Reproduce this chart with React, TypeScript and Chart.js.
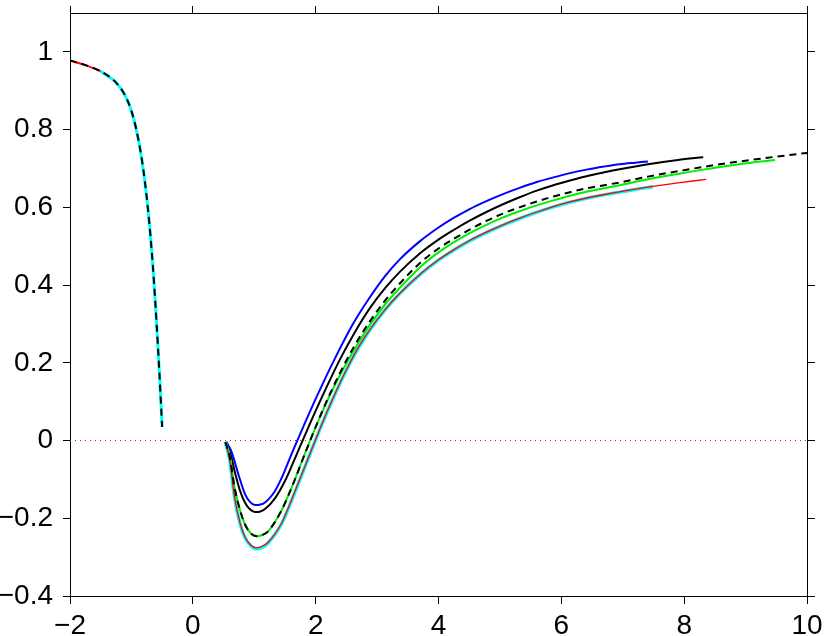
import React, { useEffect, useRef } from "react";
import { Chart, registerables } from "chart.js";
Chart.register(...registerables);

// Tick values
const xTickValues = [-2, 0, 2, 4, 6, 8, 10];
const yTickValues = [-0.4, -0.2, 0, 0.2, 0.4, 0.6, 0.8, 1];

// Left branch (shared by curves)
const leftX = [-2, -1.75, -1.5, -1.25, -1.1, -1.0, -0.92, -0.84, -0.78, -0.73, -0.69, -0.65, -0.61, -0.57, -0.53, -0.5];
const leftY = [0.978, 0.966, 0.95, 0.921, 0.887, 0.848, 0.8, 0.733, 0.665, 0.595, 0.527, 0.447, 0.353, 0.247, 0.131, 0.035];

// Right branch: blue
const blueX = [0.55, 0.57, 0.62, 0.66, 0.74, 0.85, 0.93, 1.01, 1.09, 1.17, 1.34, 1.45, 1.55, 1.66, 1.8, 2.0, 2.3, 2.6, 2.88, 3.13, 3.37, 3.7, 4.0, 4.24, 4.5, 4.78, 5.05, 5.32, 5.6, 5.87, 6.14, 6.41, 6.7, 6.95, 7.2, 7.41];
const blueY = [-0.003, -0.01, -0.025, -0.043, -0.086, -0.138, -0.158, -0.166, -0.165, -0.16, -0.129, -0.095, -0.057, -0.015, 0.036, 0.107, 0.207, 0.298, 0.368, 0.423, 0.466, 0.513, 0.548, 0.572, 0.595, 0.616, 0.634, 0.65, 0.665, 0.677, 0.688, 0.697, 0.705, 0.711, 0.715, 0.718];

// Right branch: black solid
const blackX = [0.54, 0.6, 0.68, 0.77, 0.85, 0.93, 1.01, 1.09, 1.17, 1.34, 1.5, 1.62, 1.75, 1.9, 2.1, 2.4, 2.65, 2.88, 3.13, 3.37, 3.7, 4.0, 4.24, 4.5, 4.78, 5.05, 5.32, 5.6, 5.87, 6.14, 6.41, 6.7, 6.95, 7.41, 7.9, 8.31];
const blackY = [-0.004, -0.025, -0.078, -0.13, -0.16, -0.177, -0.184, -0.183, -0.177, -0.148, -0.104, -0.062, -0.014, 0.041, 0.111, 0.21, 0.282, 0.34, 0.392, 0.434, 0.482, 0.517, 0.541, 0.565, 0.588, 0.608, 0.626, 0.643, 0.657, 0.669, 0.68, 0.69, 0.698, 0.711, 0.722, 0.729];

// Right branch: black dashed
const dashX = [0.53, 0.6, 0.68, 0.77, 0.85, 0.95, 1.04, 1.13, 1.23, 1.44, 1.55, 1.66, 1.78, 1.9, 2.05, 2.25, 2.5, 2.7, 2.88, 3.13, 3.37, 3.7, 4.0, 4.24, 4.5, 4.78, 5.05, 5.32, 5.6, 5.87, 6.14, 6.41, 6.7, 6.95, 7.41, 7.9, 8.31, 8.9, 9.48, 10];
const dashY = [-0.004, -0.04, -0.121, -0.18, -0.216, -0.24, -0.246, -0.243, -0.233, -0.181, -0.143, -0.101, -0.052, -0.004, 0.054, 0.126, 0.206, 0.262, 0.306, 0.36, 0.404, 0.457, 0.494, 0.518, 0.542, 0.565, 0.584, 0.6, 0.615, 0.628, 0.639, 0.649, 0.657, 0.664, 0.679, 0.693, 0.704, 0.718, 0.73, 0.74];

// Right branch: green
const greenX = [0.53, 0.6, 0.68, 0.77, 0.85, 0.95, 1.04, 1.13, 1.23, 1.44, 1.55, 1.66, 1.78, 1.9, 2.05, 2.25, 2.5, 2.7, 2.88, 3.13, 3.37, 3.7, 4.0, 4.24, 4.5, 4.78, 5.05, 5.32, 5.6, 5.87, 6.14, 6.41, 6.7, 6.95, 7.41, 7.9, 8.31, 8.9, 9.48];
const greenY = [-0.004, -0.04, -0.121, -0.18, -0.216, -0.24, -0.246, -0.243, -0.233, -0.181, -0.143, -0.101, -0.052, -0.004, 0.053, 0.123, 0.199, 0.253, 0.297, 0.35, 0.393, 0.446, 0.484, 0.509, 0.533, 0.555, 0.574, 0.59, 0.605, 0.618, 0.63, 0.64, 0.649, 0.657, 0.672, 0.686, 0.697, 0.711, 0.722];

// Right branch: cyan
const cyanX = [0.53, 0.6, 0.68, 0.77, 0.85, 0.95, 1.04, 1.13, 1.23, 1.44, 1.55, 1.66, 1.77, 1.88, 1.97, 2.1, 2.3, 2.5, 2.7, 2.88, 3.13, 3.37, 3.7, 4.0, 4.24, 4.5, 4.78, 5.05, 5.32, 5.6, 5.87, 6.14, 6.41, 6.7, 6.95, 7.2, 7.49];
const cyanY = [-0.004, -0.05, -0.147, -0.215, -0.25, -0.272, -0.279, -0.275, -0.263, -0.216, -0.177, -0.134, -0.09, -0.046, -0.01, 0.041, 0.114, 0.181, 0.24, 0.284, 0.336, 0.378, 0.427, 0.464, 0.489, 0.513, 0.535, 0.554, 0.571, 0.587, 0.601, 0.613, 0.623, 0.632, 0.639, 0.646, 0.653];

// Right branch: red
const redX = [0.53, 0.6, 0.68, 0.77, 0.85, 0.95, 1.04, 1.13, 1.23, 1.44, 1.55, 1.66, 1.77, 1.88, 1.97, 2.1, 2.3, 2.5, 2.7, 2.88, 3.13, 3.37, 3.7, 4.0, 4.24, 4.5, 4.78, 5.05, 5.32, 5.6, 5.87, 6.14, 6.41, 6.7, 6.95, 7.2, 7.49, 7.9, 8.36];
const redY = [-0.004, -0.05, -0.146, -0.213, -0.248, -0.27, -0.276, -0.272, -0.261, -0.214, -0.175, -0.132, -0.088, -0.045, -0.009, 0.042, 0.115, 0.182, 0.241, 0.285, 0.337, 0.379, 0.428, 0.465, 0.49, 0.514, 0.536, 0.555, 0.572, 0.588, 0.602, 0.614, 0.624, 0.633, 0.64, 0.647, 0.654, 0.663, 0.672];

// Zero reference line
const zeroX = [-2, 10];
const zeroY = [0, 0];

const pts = (xs: number[], ys: number[]) => xs.map((x, i) => ({ x, y: ys[i] }));

const fmt = (v: number) => {
  const r = Math.round(v * 10) / 10;
  if (r === 0) return "0";
  const a = Math.abs(r);
  const s = Number.isInteger(a) ? String(a) : a.toFixed(1);
  return (r < 0 ? "\u2212" : "") + s;
};

const FONT = { family: "'Liberation Sans', Arial, Helvetica, sans-serif", size: 28 };

export default function App() {
  const ref = useRef<HTMLCanvasElement>(null);
  useEffect(() => {
    const line = (data: any, color: string, width: number, extra: any = {}) => ({
      data,
      borderColor: color,
      backgroundColor: color,
      borderWidth: width,
      showLine: true,
      pointRadius: 0,
      fill: false,
      cubicInterpolationMode: "monotone",
      ...extra,
    });
    const dashed = { borderDash: [7, 5] };
    const noPadX = (s: any) => { s.paddingLeft = 0; s.paddingRight = 0; };
    const noPadY = (s: any) => { s.paddingTop = 0; s.paddingBottom = 0; };
    const chart = new Chart(ref.current as HTMLCanvasElement, {
      type: "scatter",
      data: {
        datasets: [
          line(pts(leftX, leftY), "#000000", 2, dashed),
          line(pts(dashX, dashY), "#000000", 2, dashed),
          line(pts(redX, redY), "#ff0000", 1.3),
          line(pts(greenX, greenY), "#00ee00", 2),
          line(pts(leftX.slice(2), leftY.slice(2)), "#00ffff", 3),
          line(pts(leftX.slice(0, 3), leftY.slice(0, 3)), "#ff0000", 2),
          line(pts(cyanX, cyanY), "#00ffff", 3.5),
          line(pts(blueX, blueY), "#0000ff", 2),
          line(pts(blackX, blackY), "#000000", 2),
          line(pts(zeroX, zeroY), "#ff0000", 1, { borderDash: [1, 4], cubicInterpolationMode: "default" }),
        ] as any,
      },
      options: {
        responsive: false,
        animation: false,
        events: [],
        layout: { padding: 0 },
        plugins: { legend: { display: false }, tooltip: { enabled: false } },
        scales: {
          x: {
            type: "linear",
            position: "bottom",
            min: -2,
            max: 10,
            afterBuildTicks: (a: any) => { a.ticks = xTickValues.map((v) => ({ value: v })); },
            afterFit: (s: any) => { s.height = 40; noPadX(s); },
            ticks: { color: "#000", font: FONT, padding: 5, maxRotation: 0, autoSkip: false, callback: (v: any) => fmt(Number(v)) },
            grid: { drawOnChartArea: false, drawTicks: true, tickLength: 8, color: "#000", lineWidth: 1 },
            border: { display: true, color: "#000", width: 1 },
          },
          x2: {
            type: "linear",
            axis: "x",
            position: "top",
            min: -2,
            max: 10,
            afterBuildTicks: (a: any) => { a.ticks = xTickValues.map((v) => ({ value: v })); },
            afterFit: (s: any) => { s.height = 13; noPadX(s); },
            ticks: { display: false },
            grid: { drawOnChartArea: false, drawTicks: true, tickLength: 7, color: "#000", lineWidth: 1 },
            border: { display: true, color: "#000", width: 1 },
          },
          y: {
            type: "linear",
            position: "left",
            min: -0.4,
            max: 1.1,
            afterBuildTicks: (a: any) => { a.ticks = yTickValues.map((v) => ({ value: v })); },
            afterFit: (s: any) => { s.width = 70; noPadY(s); },
            ticks: { color: "#000", font: FONT, padding: 10, autoSkip: false, callback: (v: any) => fmt(Number(v)) },
            grid: { drawOnChartArea: false, drawTicks: true, tickLength: 7, color: "#000", lineWidth: 1 },
            border: { display: true, color: "#000", width: 1 },
          },
          y2: {
            type: "linear",
            axis: "y",
            position: "right",
            min: -0.4,
            max: 1.1,
            afterBuildTicks: (a: any) => { a.ticks = yTickValues.map((v) => ({ value: v })); },
            afterFit: (s: any) => { s.width = 23; noPadY(s); },
            ticks: { display: false },
            grid: { drawOnChartArea: false, drawTicks: true, tickLength: 8, color: "#000", lineWidth: 1 },
            border: { display: true, color: "#000", width: 1 },
          },
        },
      } as any,
    });
    return () => chart.destroy();
  }, []);
  return (
    <div style={{ position: "fixed", left: 0, top: 0, width: 830, height: 636, background: "#fff" }}>
      <canvas ref={ref} width={830} height={636} style={{ display: "block", width: 830, height: 636 }} />
    </div>
  );
}
